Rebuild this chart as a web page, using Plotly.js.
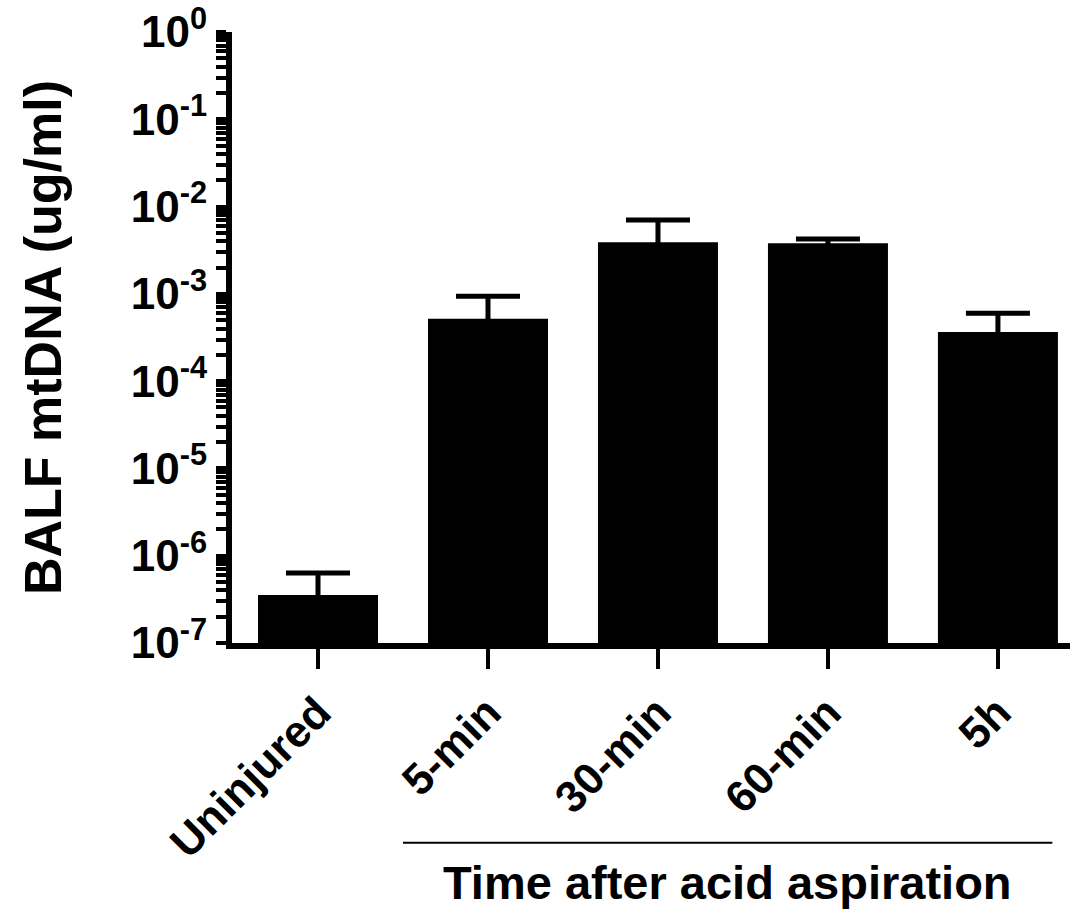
<!DOCTYPE html>
<html>
<head>
<meta charset="utf-8">
<script src="https://cdn.plot.ly/plotly-3.0.1.min.js"></script>
<style>html,body{margin:0;padding:0;background:#fff;}#chart{width:1070px;height:911px;}</style>
</head>
<body>
<div id="chart"></div>
<script>
// Data
const categories = ["Uninjured", "5-min", "30-min", "60-min", "5h"];
const meanValues = [3.55e-7, 5.2e-4, 3.9e-3, 3.8e-3, 3.65e-4];
const upperError = [2.8e-7, 4.2e-4, 3.1e-3, 0.45e-3, 2.35e-4];
const yTickVals = [1e-7, 1e-6, 1e-5, 1e-4, 1e-3, 1e-2, 1e-1, 1e0];
const yTickText = ["10<sup>-7</sup>", "10<sup>-6</sup>", "10<sup>-5</sup>", "10<sup>-4</sup>",
                   "10<sup>-3</sup>", "10<sup>-2</sup>", "10<sup>-1</sup>", "10<sup>0</sup>"];
const minorDigits = [2, 3, 4, 5, 6, 7, 8, 9];
const yTitle = "BALF mtDNA (ug/ml)";
const groupTitle = "Time after acid aspiration";

const yLogRange = [-7, 0];
const xIdx = categories.map((_, i) => i);

// all tick positions: labelled decades plus unlabelled minor ticks
const allTickVals = yTickVals.slice();
const allTickText = yTickText.slice();
yTickVals.slice(0, -1).forEach(d => minorDigits.forEach(m => {
  allTickVals.push(d * m);
  allTickText.push("");
}));

const barTrace = {
  type: "bar",
  x: xIdx,
  y: meanValues,
  width: 0.706,
  marker: { color: "#000000", line: { width: 0 } },
  error_y: {
    type: "data",
    symmetric: false,
    array: upperError,
    // lower whisker kept hidden inside the bar
    arrayminus: meanValues.map(v => v * 0.2),
    color: "#000000",
    thickness: 5,
    width: 32,
    visible: true
  },
  hoverinfo: "skip"
};

const fontFam = "'Liberation Sans', Arial, Helvetica, sans-serif";

const layout = {
  width: 1070,
  height: 911,
  margin: { l: 232, r: 0, t: 32, b: 268 },
  paper_bgcolor: "#ffffff",
  plot_bgcolor: "#ffffff",
  showlegend: false,
  font: { family: fontFam, color: "#000", weight: "bold" },
  xaxis: {
    range: [-0.506, 4.424],
    tickmode: "array",
    tickvals: xIdx,
    ticktext: categories,
    tickangle: -45,
    tickfont: { family: fontFam, size: 44, color: "#000", weight: "bold" },
    ticks: "outside",
    ticklen: 20,
    tickwidth: 4,
    tickcolor: "#000",
    showline: true,
    linewidth: 6,
    linecolor: "#000",
    showgrid: false,
    zeroline: false,
    fixedrange: true
  },
  yaxis: {
    type: "log",
    range: yLogRange,
    tickmode: "array",
    tickvals: allTickVals,
    ticktext: allTickText,
    tickfont: { family: fontFam, size: 44, color: "#000", weight: "bold" },
    ticks: "outside",
    ticklen: 10,
    tickwidth: 4,
    tickcolor: "#000",
    showline: true,
    linewidth: 6,
    linecolor: "#000",
    showgrid: false,
    zeroline: false,
    title: { text: yTitle, font: { family: fontFam, size: 52, color: "#000", weight: "bold" }, standoff: 55 },
    fixedrange: true
  },
  shapes: [{
    type: "line",
    xref: "x", yref: "paper",
    x0: 0.5, x1: 4.32,
    y0: -0.327, y1: -0.327,
    line: { color: "#000", width: 2 }
  }],
  annotations: [{
    text: groupTitle,
    xref: "x", yref: "paper",
    x: 2.41, y: -0.345,
    xanchor: "center", yanchor: "top",
    showarrow: false,
    font: { family: fontFam, size: 47, color: "#000", weight: "bold" }
  }]
};

Plotly.newPlot("chart", [barTrace], layout, { displayModeBar: false, staticPlot: true });
</script>
</body>
</html>
